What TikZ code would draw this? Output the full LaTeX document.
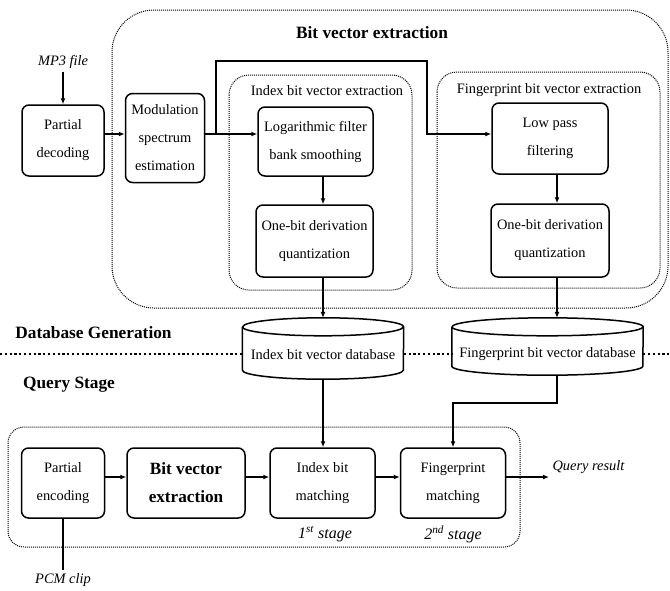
\documentclass[tikz,border=0pt]{standalone}
\usepackage{fontspec}
\setmainfont{Liberation Serif}
\usetikzlibrary{arrows.meta}

\begin{document}
\begin{tikzpicture}[x=1pt, y=-1pt,
    box/.style={draw, line width=1.5pt, rounded corners=7pt, align=center, inner sep=0pt,
        font=\fontsize{14.4}{28}\selectfont},
    grp/.style={draw, densely dotted, line width=1pt, rounded corners=#1},
    arr/.style={-{Latex[length=6pt,width=5pt]}, line width=1.3pt},
    db/.style={inner sep=0pt, text height=26pt, text depth=4pt,
        font=\fontsize{14.4}{17}\selectfont},
    lbl/.style={font=\fontsize{14.4}{17}\selectfont},
    note/.style={font=\fontsize{14.4}{17}\selectfont\itshape},
    ttl/.style={font=\fontsize{17.3}{20}\selectfont\bfseries},
    sep/.style={line width=2.2pt, dash pattern=on 2.2pt off 2.6pt}]
    \useasboundingbox (0,0) rectangle (670,590);

    % group frames
    \draw[grp=42] (112,10) rectangle (668,308);
    \draw[grp=20] (229,75) rectangle (412,290);
    \draw[grp=20] (437,72) rectangle (660,288);
    \draw[grp=16] (8,427) rectangle (520,547);

    % titles
    \node[ttl] (bvx) at (372,33) {Bit vector extraction};
    \node[lbl] (ixl) at (327,91) {Index bit vector extraction};
    \node[lbl] (fxl) at (549,90) {Fingerprint bit vector extraction};
    \node[ttl] (dbg) at (93.5,333) {Database Generation};
    \node[ttl] (qst) at (69,385) {Query Stage};

    % database generation
    \node[note] (mp3) at (63,62) {MP3 file};
    \node[box, minimum width=82pt, minimum height=71pt] (pdec) at (63,140.5) {Partial\\decoding};
    \node[box, minimum width=79pt, minimum height=89pt] (modu) at (165,138) {Modulation\\spectrum\\estimation};
    \node[box, minimum width=115pt, minimum height=69pt] (logf) at (315.5,141.5) {Logarithmic filter\\bank smoothing};
    \node[box, minimum width=117pt, minimum height=72pt] (iq) at (314.5,241) {One-bit derivation\\quantization};
    \node[box, minimum width=116pt, minimum height=71pt] (lowp) at (550,138.5) {Low pass\\filtering};
    \node[box, minimum width=118pt, minimum height=73pt] (fq) at (550,240.5) {One-bit derivation\\quantization};

    % databases
    \node[db, minimum width=161pt, minimum height=61pt] (idb) at (323,348.5) {Index bit vector database};
    \node[db, minimum width=191pt, minimum height=57pt] (fdb) at (547.5,346.5) {Fingerprint bit vector database};
    \foreach \n/\r in {idb/80.5, fdb/95.5} {
        \draw[line width=1.5pt] ([yshift=-9pt]\n.north west) -- ([yshift=9pt]\n.south west)
            arc[start angle=180, end angle=360, x radius=\r pt, y radius=9pt]
            -- ([yshift=-9pt]\n.north east)
            arc[start angle=0, end angle=180, x radius=\r pt, y radius=9pt];
        \draw[line width=1.5pt] ([yshift=-9pt]\n.north west)
            arc[start angle=180, end angle=360, x radius=\r pt, y radius=9pt];
    }

    % separator
    \coordinate (sepl) at (0,354);
    \coordinate (sepr) at (670,354);
    \draw[sep] (sepl) -- (sepl -| idb.west);
    \draw[sep] (idb.east |- sepl) -- (fdb.west |- sepl);
    \draw[sep] (fdb.east |- sepl) -- (sepr);

    % query stage
    \node[box, minimum width=83pt, minimum height=70pt] (penc) at (63,483) {Partial\\encoding};
    \node[box, minimum width=118pt, minimum height=70pt, font=\fontsize{17.2}{28}\selectfont\bfseries] (bve) at (186,483) {Bit vector\\extraction};
    \node[box, minimum width=105pt, minimum height=70pt] (ibm) at (322.5,483) {Index bit\\matching};
    \node[box, minimum width=105pt, minimum height=70pt] (fpm) at (453,483) {Fingerprint\\matching};
    \node[note, font=\fontsize{16}{18}\selectfont\itshape] (st1) at (325,534) {1\textsuperscript{st} stage};
    \node[note, font=\fontsize{16}{18}\selectfont\itshape] (st2) at (453,534) {2\textsuperscript{nd} stage};
    \node[note, anchor=west] (qres) at (549,467) {Query result};
    \node[note] (pcm) at (63,580) {PCM clip};

    % connectors
    \coordinate (split) at (216,134);
    \coordinate (bend) at (427,61);
    \coordinate (qrow) at (0,477);
    \coordinate (fturn) at (557,403);
    \draw[arr] (mp3) -- (pdec);
    \draw[arr] (pdec.east |- split) -- (modu.west |- split);
    \draw[arr] (modu.east |- split) -- (logf.west |- split);
    \draw[arr] (split) |- (bend) |- (lowp.west |- split);
    \draw[arr] (logf.south -| idb) -- (iq.north -| idb);
    \draw[arr] (iq.south -| idb) -- (idb.north);
    \draw[arr] (idb.south) -- (ibm.north -| idb);
    \draw[arr] (lowp.south -| fturn) -- (fq.north -| fturn);
    \draw[arr] (fq.south -| fturn) -- (fdb.north -| fturn);
    \draw[arr] (fdb.south -| fturn) -- (fturn) -| (fpm.north);
    \draw[arr] (penc.east |- qrow) -- (bve.west |- qrow);
    \draw[arr] (bve.east |- qrow) -- (ibm.west |- qrow);
    \draw[arr] (ibm.east |- qrow) -- (fpm.west |- qrow);
    \draw[arr] (fpm.east |- qrow) -- (qrow -| qres.west);
    \draw[line width=1.3pt] (pcm) -- (penc);
\end{tikzpicture}
\end{document}
